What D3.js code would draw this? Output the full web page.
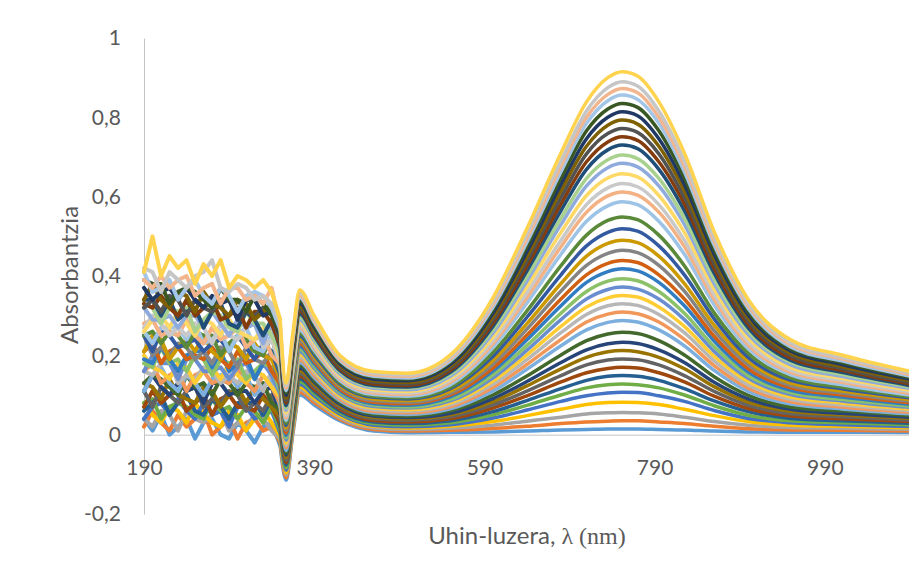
<!DOCTYPE html>
<html>
<head>
<meta charset="utf-8">
<script src="https://cdn.jsdelivr.net/npm/d3@7/dist/d3.min.js"></script>
<style>
  html, body { margin: 0; padding: 0; background: #fff; }
  svg { display: block; }
</style>
</head>
<body>
<div id="chart"></div>
<script>
// wavelength grid (nm): noisy UV part every 10 nm, then the smooth part
const wavelengths = [190,200,210,220,230,240,250,260,270,280,290,300,310,320,330,340,
  350,357,365,373,390,420,460,500,
  550,600,640,680,710,735,752,770,795,825,860,900,950,1010,1100];

// one row per spectrum, lowest (first measured) to highest
const absorbance = [
  [.04,.01,.05,0,.02,.04,-.01,.03,.04,0,-.01,.03,.01,-.02,.02,.03, -.028,-.115,.003,.100,.075,.035,.009,.005, .006,.007,.009,.012,.013,.014,.014,.014,.013,.012,.009,.007,.006,.006,.005],
  [.02,.06,.03,.01,.05,.02,.04,.06,0,.02,.04,-.01,.03,.04,.01,.02, -.019,-.109,.009,.107,.081,.039,.013,.009, .011,.016,.021,.028,.032,.034,.035,.035,.032,.028,.021,.015,.012,.011,.009],
  [.04,.02,.06,.05,.01,.06,.04,.03,.05,.06,.01,.03,.02,.05,.04,.01, -.011,-.102,.016,.114,.087,.043,.017,.013, .016,.024,.034,.044,.052,.055,.056,.055,.052,.044,.033,.024,.018,.016,.013],
  [.08,.05,.03,.07,.06,.03,.08,.05,.03,.02,.06,.05,.01,.04,.06,.03, -.003,-.096,.022,.120,.092,.048,.021,.017, .021,.033,.048,.064,.076,.081,.082,.081,.076,.064,.048,.033,.024,.021,.017],
  [.04,.07,.08,.05,.09,.06,.04,.08,.05,.06,.02,.07,.07,.04,.05,.06, .005,-.090,.029,.127,.098,.052,.024,.020, .025,.042,.062,.084,.098,.105,.107,.106,.098,.084,.061,.041,.030,.025,.020],
  [.08,.09,.04,.07,.08,.07,.05,.04,.09,.06,.07,.04,.07,.06,.03,.07, .013,-.084,.035,.134,.104,.056,.028,.024, .030,.050,.074,.100,.118,.126,.128,.126,.118,.100,.073,.049,.035,.030,.024],
  [.06,.08,.10,.05,.08,.10,.06,.05,.09,.07,.04,.08,.08,.08,.05,.09, .022,-.077,.042,.141,.110,.060,.032,.028, .035,.058,.086,.116,.137,.147,.149,.147,.137,.116,.085,.058,.041,.035,.028],
  [.07,.11,.08,.10,.11,.06,.08,.10,.05,.09,.10,.07,.07,.06,.10,.07, .030,-.071,.048,.148,.115,.065,.036,.032, .040,.067,.098,.133,.156,.167,.170,.168,.156,.133,.097,.066,.047,.040,.032],
  [.11,.07,.12,.10,.08,.11,.12,.07,.09,.08,.11,.10,.06,.08,.06,.10, .038,-.065,.055,.154,.121,.069,.040,.036, .045,.075,.110,.149,.176,.188,.191,.189,.176,.149,.109,.074,.053,.045,.036],
  [.13,.12,.09,.14,.10,.09,.08,.12,.11,.07,.10,.12,.08,.12,.09,.07, .046,-.058,.061,.161,.127,.073,.044,.040, .050,.083,.123,.166,.195,.209,.212,.209,.195,.166,.121,.082,.059,.050,.040],
  [.11,.15,.12,.10,.13,.11,.12,.08,.13,.13,.10,.11,.11,.08,.11,.12, .054,-.052,.068,.168,.133,.077,.047,.043, .054,.091,.134,.182,.214,.229,.233,.230,.214,.182,.132,.090,.064,.054,.043],
  [.13,.15,.14,.12,.10,.15,.12,.13,.10,.14,.13,.10,.13,.12,.13,.08, .062,-.046,.074,.175,.138,.082,.051,.047, .060,.100,.148,.201,.237,.254,.258,.255,.237,.201,.146,.099,.070,.060,.047],
  [.11,.15,.17,.13,.11,.15,.13,.10,.14,.15,.15,.12,.15,.10,.12,.14, .071,-.040,.081,.182,.144,.086,.055,.051, .065,.110,.165,.224,.264,.283,.288,.284,.264,.224,.162,.109,.077,.065,.051],
  [.16,.18,.13,.15,.16,.11,.15,.16,.13,.14,.13,.17,.13,.11,.15,.12, .079,-.033,.088,.188,.150,.090,.059,.055, .070,.119,.177,.240,.284,.304,.309,.305,.284,.240,.174,.117,.083,.070,.055],
  [.16,.15,.18,.19,.13,.15,.14,.17,.16,.13,.15,.13,.16,.15,.11,.16, .087,-.027,.094,.195,.156,.094,.063,.059, .075,.127,.189,.257,.303,.325,.330,.326,.303,.257,.186,.125,.089,.075,.059],
  [.20,.17,.16,.14,.18,.17,.13,.16,.17,.14,.18,.15,.13,.16,.15,.12, .095,-.021,.101,.202,.162,.098,.067,.063, .080,.135,.201,.273,.322,.345,.351,.347,.322,.273,.198,.134,.095,.080,.063],
  [.16,.20,.18,.18,.14,.19,.19,.16,.16,.17,.14,.17,.18,.14,.18,.15, .103,-.014,.107,.209,.167,.103,.071,.067, .085,.143,.213,.290,.342,.366,.372,.367,.342,.290,.210,.142,.101,.085,.067],
  [.18,.17,.22,.18,.19,.16,.20,.19,.15,.19,.18,.19,.14,.16,.18,.17, .111,-.008,.114,.216,.173,.107,.074,.070, .089,.151,.225,.306,.361,.387,.393,.388,.361,.306,.222,.149,.106,.089,.070],
  [.19,.18,.22,.19,.16,.20,.21,.21,.17,.21,.16,.18,.20,.14,.18,.20, .120,-.002,.120,.222,.179,.111,.078,.074, .095,.160,.239,.325,.384,.411,.418,.413,.384,.325,.236,.158,.112,.095,.074],
  [.21,.23,.18,.21,.22,.19,.20,.19,.22,.19,.17,.21,.18,.19,.21,.16, .128,.004,.127,.229,.185,.115,.082,.078, .100,.168,.251,.342,.403,.432,.439,.434,.403,.342,.248,.166,.118,.100,.078],
  [.25,.20,.22,.20,.23,.22,.19,.21,.18,.22,.21,.17,.22,.19,.18,.21, .136,.011,.133,.236,.190,.120,.086,.082, .105,.178,.266,.362,.427,.457,.465,.459,.427,.362,.262,.176,.124,.105,.082],
  [.21,.25,.24,.19,.22,.24,.21,.25,.21,.19,.23,.22,.19,.23,.20,.19, .144,.017,.140,.243,.196,.124,.090,.086, .110,.187,.280,.381,.450,.482,.490,.484,.450,.381,.276,.185,.130,.110,.086],
  [.25,.21,.26,.25,.22,.23,.24,.21,.23,.24,.21,.25,.22,.19,.23,.21, .152,.023,.146,.249,.202,.128,.094,.090, .116,.197,.296,.403,.476,.510,.519,.513,.476,.403,.292,.195,.137,.116,.090],
  [.25,.26,.23,.26,.25,.22,.26,.25,.25,.20,.23,.25,.24,.21,.20,.25, .160,.029,.153,.256,.208,.132,.097,.093, .120,.207,.312,.426,.503,.540,.549,.542,.503,.426,.307,.205,.143,.120,.093],
  [.26,.23,.27,.27,.27,.24,.28,.23,.24,.26,.21,.25,.27,.22,.21,.25, .168,.036,.159,.263,.213,.137,.101,.097, .126,.220,.332,.455,.538,.577,.587,.580,.538,.455,.327,.217,.151,.126,.097],
  [.28,.29,.25,.26,.25,.29,.25,.23,.27,.24,.25,.27,.22,.24,.25,.20, .177,.042,.166,.270,.219,.141,.105,.101, .132,.229,.346,.474,.561,.602,.612,.604,.561,.474,.341,.226,.157,.132,.101],
  [.27,.30,.28,.25,.27,.25,.28,.27,.23,.28,.25,.24,.27,.28,.22,.24, .185,.048,.172,.277,.225,.145,.109,.105, .137,.237,.358,.490,.580,.622,.633,.625,.580,.490,.353,.234,.163,.137,.105],
  [.26,.29,.30,.27,.31,.28,.25,.29,.28,.25,.29,.26,.25,.24,.27,.26, .193,.055,.179,.283,.231,.149,.113,.109, .142,.246,.373,.510,.603,.647,.658,.650,.603,.510,.367,.244,.169,.142,.109],
  [.32,.29,.29,.30,.27,.30,.30,.27,.31,.28,.25,.29,.27,.28,.23,.28, .201,.061,.186,.290,.237,.153,.117,.113, .147,.256,.387,.530,.627,.673,.684,.675,.627,.530,.381,.253,.176,.147,.113],
  [.33,.32,.28,.32,.31,.32,.26,.29,.31,.30,.27,.26,.31,.28,.28,.25, .209,.067,.192,.297,.242,.158,.121,.117, .152,.264,.399,.546,.646,.693,.705,.696,.646,.546,.393,.261,.182,.152,.117],
  [.34,.34,.30,.34,.29,.31,.32,.27,.31,.33,.28,.27,.31,.29,.25,.29, .218,.073,.199,.304,.248,.162,.124,.120, .157,.273,.413,.565,.669,.718,.730,.721,.669,.565,.407,.269,.187,.157,.120],
  [.33,.32,.35,.32,.30,.34,.30,.32,.34,.29,.30,.32,.27,.31,.31,.28, .226,.080,.205,.311,.254,.166,.128,.124, .162,.281,.425,.582,.688,.738,.751,.742,.688,.582,.419,.278,.193,.162,.124],
  [.32,.34,.31,.35,.34,.30,.34,.32,.31,.34,.34,.29,.31,.30,.32,.31, .234,.086,.212,.317,.260,.170,.132,.128, .167,.289,.437,.598,.708,.759,.772,.762,.708,.598,.431,.286,.199,.167,.128],
  [.34,.38,.34,.32,.36,.35,.31,.36,.33,.32,.30,.34,.33,.29,.31,.33, .242,.092,.218,.324,.265,.175,.136,.132, .172,.297,.449,.615,.727,.780,.793,.783,.727,.615,.443,.294,.205,.172,.132],
  [.37,.34,.36,.37,.34,.37,.34,.32,.35,.33,.34,.29,.34,.34,.30,.31, .250,.099,.225,.331,.271,.179,.140,.136, .177,.306,.461,.631,.746,.800,.814,.804,.746,.631,.455,.302,.211,.177,.136],
  [.39,.38,.38,.33,.36,.37,.36,.34,.32,.37,.34,.34,.31,.35,.33,.30, .258,.105,.231,.338,.277,.183,.144,.140, .182,.314,.474,.647,.766,.821,.835,.825,.766,.647,.467,.310,.216,.182,.140],
  [.41,.36,.37,.39,.34,.37,.39,.35,.33,.37,.35,.31,.35,.36,.35,.32, .266,.111,.238,.345,.283,.187,.147,.143, .186,.321,.485,.663,.785,.842,.856,.845,.785,.663,.478,.318,.221,.186,.143],
  [.39,.37,.40,.37,.39,.40,.35,.37,.38,.33,.37,.37,.34,.35,.33,.37, .275,.117,.244,.351,.288,.191,.151,.147, .191,.329,.495,.677,.800,.858,.873,.862,.800,.677,.488,.325,.227,.191,.147],
  [.42,.41,.36,.41,.39,.37,.40,.41,.44,.37,.36,.38,.37,.34,.35,.33, .283,.124,.251,.358,.294,.196,.155,.151, .195,.336,.506,.690,.816,.875,.890,.879,.816,.690,.498,.332,.232,.195,.151],
  [.41,.50,.40,.45,.42,.44,.38,.43,.40,.44,.37,.40,.39,.37,.39,.36, .291,.130,.257,.365,.300,.200,.159,.155, .201,.345,.520,.710,.839,.900,.915,.904,.839,.710,.512,.341,.239,.201,.155]
];

// office-style series colours, in the same order as the rows
const seriesColors = [
  "#5B9BD5","#ED7D31","#A5A5A5","#FFC000","#4472C4","#70AD47",
  "#255E91","#9E480E","#636363","#997300","#264478","#43682B",
  "#7CAFDD","#F1975A","#B7B7B7","#FFCD33","#698ED0","#8CC168",
  "#327DC2","#D26012","#848484","#CC9A00","#335AA1","#5A8A39",
  "#9DC3E6","#F4B183","#C9C9C9","#FFD966","#8FAADC","#A9D18E",
  "#1F4E79","#843C0C","#525252","#7F6000","#203864","#385723",
  "#A3C6E8","#F3B58D","#C6C6C6","#FFD34D"
];

const yTicks = [-0.2, 0, 0.2, 0.4, 0.6, 0.8, 1];
const xTickLabels = [190, 390, 590, 790, 990];

const width = 909, height = 575;
const font = "Lato, 'Open Sans', sans-serif";
const textColor = "#595959";
const axisColor = "#c4c4c4";
const noiseEnd = 16;   // index of 350 nm, where the noisy part stops

const svg = d3.select("#chart").append("svg")
    .attr("width", width)
    .attr("height", height)
    .style("background", "#fff");

const x = d3.scaleLinear().domain([190, 1100]).range([144, 918.4]);
const y = d3.scaleLinear().domain([-0.2, 1]).range([514, 38]);

// numbers with a decimal comma
const locale = d3.formatLocale({decimal: ",", thousands: ".", grouping: [3], currency: ["", ""], minus: "-"});
const fmt = locale.format("~g");

const yAxis = svg.append("g")
    .attr("transform", `translate(${x(190)},0)`)
    .call(d3.axisLeft(y).tickValues(yTicks).tickSize(0).tickSizeOuter(0).tickPadding(23).tickFormat(fmt));

const xAxis = svg.append("g")
    .attr("transform", `translate(0,${y(0)})`)
    .call(d3.axisBottom(x).tickValues(xTickLabels).tickSize(0).tickSizeOuter(0).tickPadding(25).tickFormat(d3.format("d")));

[yAxis, xAxis].forEach(g => {
    g.select(".domain").attr("stroke", axisColor).attr("stroke-width", 1);
    g.selectAll("text")
        .attr("font-family", font)
        .attr("font-size", 21)
        .attr("fill", textColor);
});

// jagged lines for the noisy UV part, smooth ones for the rest
const noiseLine = d3.line()
    .x(d => x(d[0]))
    .y(d => y(d[1]))
    .curve(d3.curveLinear);

const smoothLine = d3.line()
    .x(d => x(d[0]))
    .y(d => y(d[1]))
    .curve(d3.curveMonotoneX);

const series = svg.append("g")
    .selectAll("g")
    .data(absorbance)
    .join("g")
    .attr("fill", "none")
    .attr("stroke", (d, i) => seriesColors[i])
    .attr("stroke-linejoin", "round")
    .attr("stroke-linecap", "round");

series.append("path")
    .attr("stroke-width", 4)
    .attr("d", row => noiseLine(row.slice(0, noiseEnd + 1).map((v, j) => [wavelengths[j], v])));

series.append("path")
    .attr("stroke-width", 3.5)
    .attr("d", row => smoothLine(row.slice(noiseEnd).map((v, j) => [wavelengths[j + noiseEnd], v])));

// axis titles
svg.append("text")
    .attr("transform", "translate(78,275) rotate(-90)")
    .attr("text-anchor", "middle")
    .attr("font-family", font)
    .attr("font-size", 24)
    .attr("fill", textColor)
    .text("Absorbantzia");

const xTitle = svg.append("text")
    .attr("x", 527)
    .attr("y", 544)
    .attr("text-anchor", "middle")
    .attr("font-family", font)
    .attr("font-size", 24)
    .attr("fill", textColor);
xTitle.append("tspan").text("Uhin-luzera, ");
xTitle.append("tspan")
    .attr("font-family", "'Liberation Serif', 'DejaVu Serif', serif")
    .text("λ (nm)");
</script>
</body>
</html>
